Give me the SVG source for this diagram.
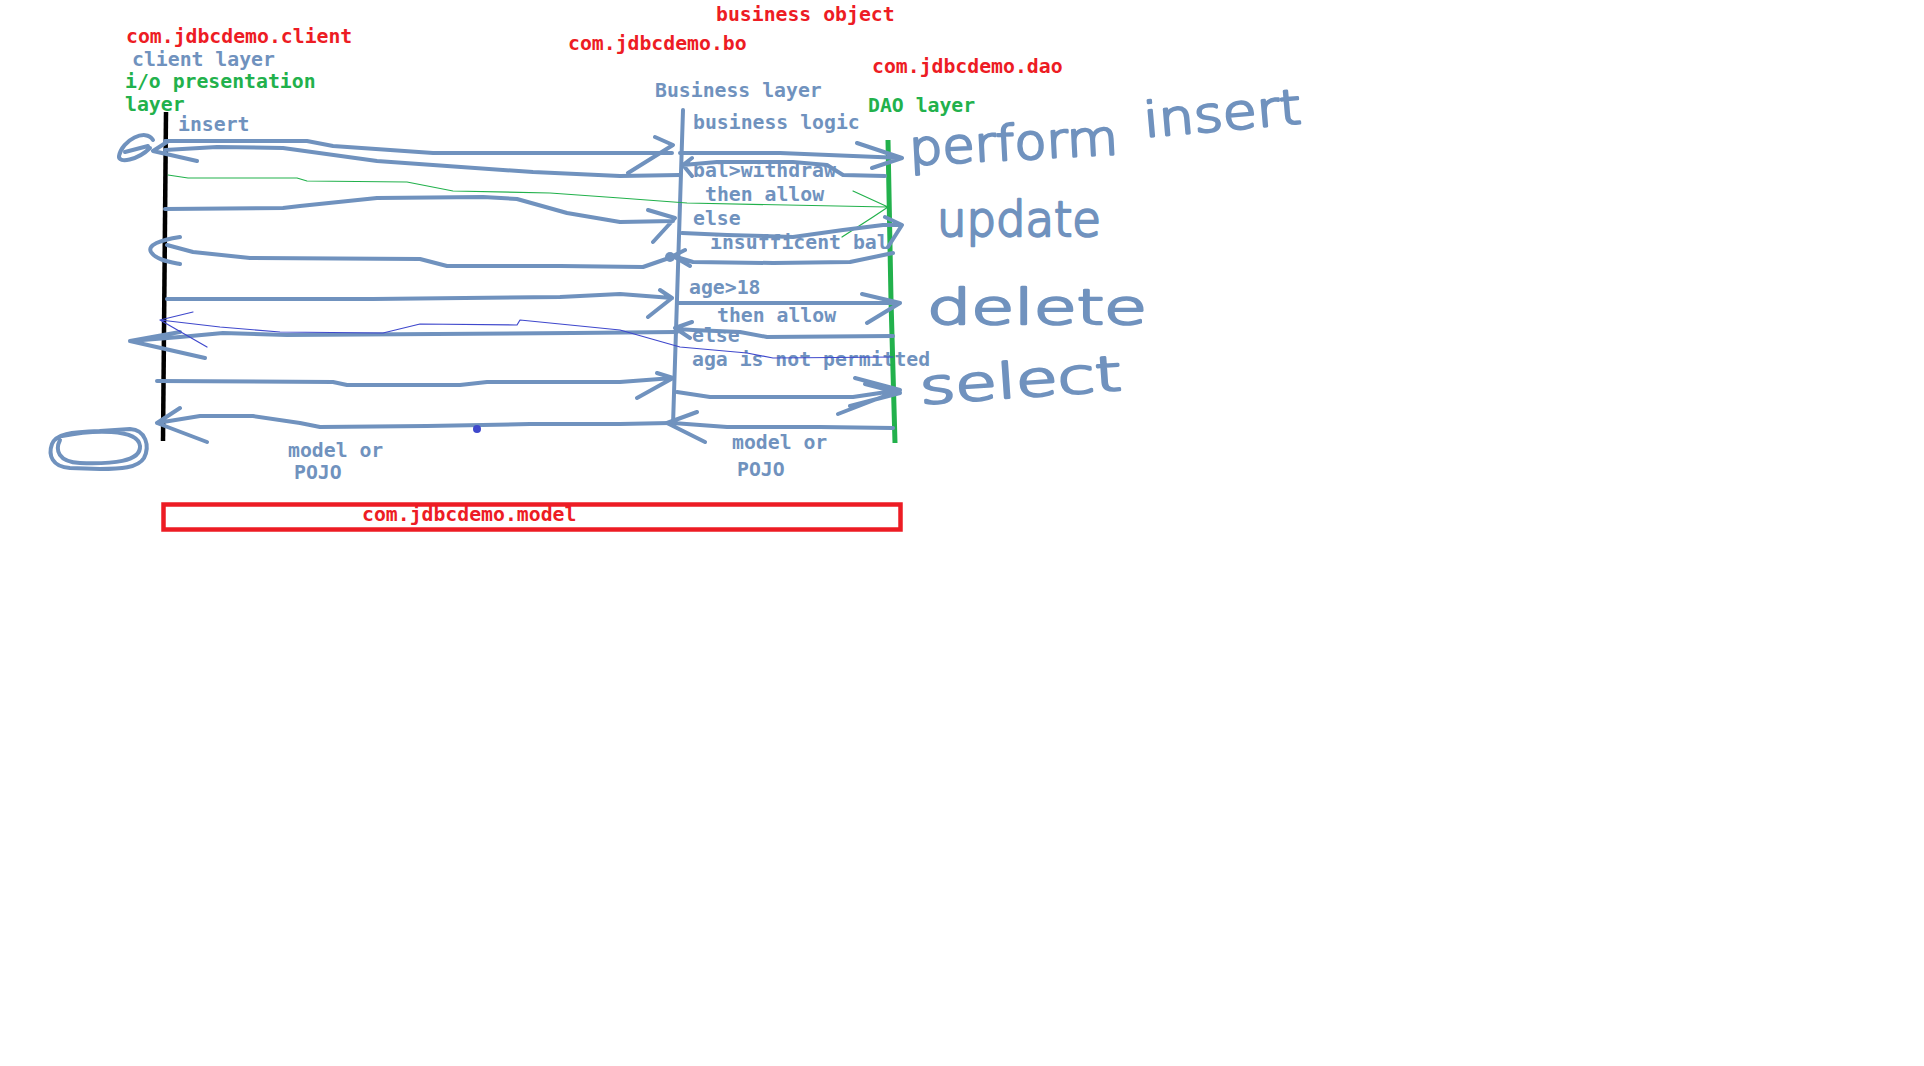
<svg xmlns="http://www.w3.org/2000/svg" width="1924" height="1066" viewBox="0 0 1924 1066">
<style>
text{font-family:"DejaVu Sans Mono","Liberation Mono",monospace;font-size:19.8px;font-weight:bold}
.r{fill:#ed1c24}.g{fill:#22b14c}.b{fill:#7092be}
.ln{fill:none;stroke:#7092be;stroke-width:4;stroke-linecap:round;stroke-linejoin:round}
.thin{fill:none;stroke-width:1.2;stroke-linecap:round;stroke-linejoin:round}
.hw{font-family:"DejaVu Sans",sans-serif;font-weight:200;font-size:48px;fill:#7092be;stroke:#7092be;stroke-width:2.5;stroke-linejoin:round}
</style>
<rect width="1924" height="1066" fill="#fff"/>
<text class="r" x="716" y="21">business object</text>
<g id="client">
<text class="r" x="126" y="43">com.jdbcdemo.client</text>
<text class="b" x="132" y="66">client layer</text>
<text class="g" x="125" y="88">i/o presentation</text>
<text class="g" x="125" y="111">layer</text>
<line x1="166" y1="112" x2="163" y2="441" stroke="#000" stroke-width="4.5"/>
<text class="b" x="178" y="131">insert</text>
<text class="b" x="288" y="457">model or</text>
<text class="b" x="294" y="479">POJO</text>
</g>
<g id="business">
<text class="r" x="568" y="50">com.jdbcdemo.bo</text>
<text class="b" x="655" y="97">Business layer</text>
<line x1="683" y1="110" x2="673" y2="425" class="ln"/>
<text class="b" x="693" y="129">business logic</text>
<text class="b" x="693" y="177">bal&gt;withdraw</text>
<text class="b" x="705" y="201">then allow</text>
<text class="b" x="693" y="225">else</text>
<text class="b" x="710" y="249">insufficent bal</text>
<text class="b" x="689" y="294">age&gt;18</text>
<text class="b" x="717" y="322">then allow</text>
<text class="b" x="692" y="342">else</text>
<text class="b" x="692" y="366">aga is not permitted</text>
<text class="b" x="732" y="449">model or</text>
<text class="b" x="737" y="476">POJO</text>
</g>
<g id="dao">
<text class="r" x="872" y="73">com.jdbcdemo.dao</text>
<text class="g" x="868" y="112">DAO layer</text>
<path d="M888,140 L891,300 L895,443" fill="none" stroke="#22b14c" stroke-width="5"/>
<text class="hw" x="910" y="165" textLength="209" lengthAdjust="spacingAndGlyphs" transform="rotate(-3 910 165)">perform</text>
<text class="hw" x="1145" y="137" textLength="158" lengthAdjust="spacingAndGlyphs" transform="rotate(-5 1145 137)">insert</text>
<text class="hw" x="937" y="236" textLength="164" lengthAdjust="spacingAndGlyphs">update</text>
<text class="hw" x="927" y="324" textLength="220" lengthAdjust="spacingAndGlyphs">delete</text>
<text class="hw" x="921" y="404" textLength="202" lengthAdjust="spacingAndGlyphs" transform="rotate(-4 921 404)">select</text>
</g>
<g id="model">
<rect x="163.5" y="504.5" width="737" height="25" fill="none" stroke="#ed1c24" stroke-width="4.5"/>
<text class="r" x="362" y="521">com.jdbcdemo.model</text>
</g>
<g id="connectors">
<path class="ln" d="M165,141 L307,141 L333,146 L433,153 L672,153 M655,137 L673,145 L628,173"/>
<path class="ln" d="M680,175 L620,176 L533,172 L433,165 L377,161 L283,148 L217,147 L165,150 M167,142 L153,151 L197,161"/>
<path class="ln" d="M153,140 C146,128 122,140 119,156 C118,164 138,160 150,148 M125,152 L148,146"/>
<path class="thin" stroke="#22b14c" d="M168,175 L188,178 L297,178 L307,181 L407,182 L453,191 L550,193 L620,198 L687,203 L887,207 M853,191 L888,207 L873,217 L842,237"/>
<path class="ln" d="M165,209 L283,208 L300,206 L377,198 L483,197 L517,199 L567,213 L620,222 L673,221 M648,210 L675,218 L653,242"/>
<path class="ln" d="M672,257 L643,267 L560,266 L447,266 L420,259 L250,258 L193,252 L167,245 M180,237 C160,240 147,245 151,252 C156,260 170,262 180,264"/>
<path class="ln" d="M680,153 L780,153 L902,158 M857,143 L902,158 L872,168"/>
<path class="ln" d="M885,176 L843,175 L827,165 L793,162 L717,162 L683,165 M692,158 L683,165 L692,176"/>
<path class="ln" d="M682,233 L727,235 L793,237 L843,230 L883,225 L900,225 M885,217 L902,225 L888,247"/>
<path class="ln" d="M893,253 L850,262 L773,263 L693,262 L673,256 M685,250 L673,256 L690,266"/>
<circle cx="670" cy="257" r="5" fill="#7092be"/>
<path class="ln" d="M167,299 L373,299 L560,297 L620,294 L672,298 M660,290 L672,298 L648,317"/>
<path class="ln" d="M677,303 L898,303 M862,294 L900,303 L867,323"/>
<path class="ln" d="M893,336 L767,337 L740,332 L693,330 L677,329 M692,322 L675,328 L690,338"/>
<path class="ln" d="M677,332 L573,333 L287,335 L223,333 L180,337 L130,341 M180,332 L130,341 L205,358"/>
<path class="thin" stroke="#3f48cc" d="M193,312 L160,320 L220,327 L280,332 L383,333 L420,324 L517,325 L520,320 L620,330 L680,347 L747,353 L773,358 L893,357 M160,320 L207,347"/>
<path class="ln" d="M157,381 L333,382 L347,385 L460,385 L487,382 L620,382 L673,378 M657,373 L673,378 L637,398"/>
<path class="ln" d="M677,392 L710,397 L853,397 L900,390 M855,378 L900,390 L838,414 M865,384 L900,393 L850,406"/>
<path class="ln" d="M893,428 L820,427 L727,427 L673,423 M697,412 L667,423 L705,442"/>
<path class="ln" d="M670,423 L620,424 L530,424 L427,426 L320,427 L300,423 L253,416 L200,416 L157,423 M180,408 L157,423 L207,442"/>
<circle cx="477" cy="429" r="4" fill="#3f48cc"/>
<path class="ln" d="M100,431 L130,429 C146,430 150,446 144,458 C138,468 120,469 100,469 L70,468 C52,467 48,455 52,444 C56,434 70,432 100,431 M62,436 C92,430 138,428 140,446 C141,462 112,464 80,463 C58,462 55,450 60,440"/>
</g>
</svg>
